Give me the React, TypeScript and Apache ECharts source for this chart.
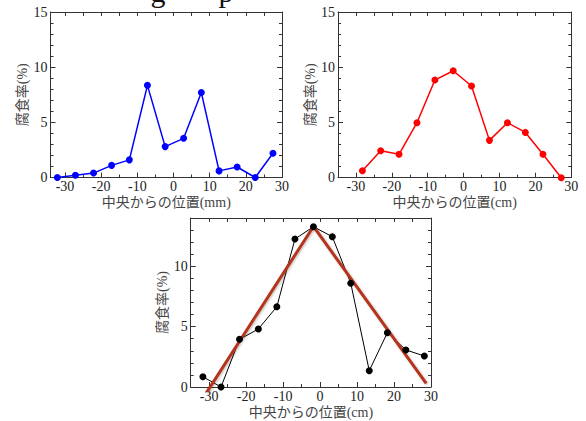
import React, { useEffect, useRef } from "react";
import * as echarts from "echarts";

// ---- data ----
const blueX = [-32.1, -27.1, -22.1, -17.1, -12.2, -7.2, -2.3, 2.8, 7.7, 12.6, 17.6, 22.6, 27.5];
const blueY = [0.0, 0.2, 0.4, 1.1, 1.6, 8.35, 2.8, 3.55, 7.7, 0.6, 0.95, 0.0, 2.2];

const redX = [-28.2, -23.1, -18.0, -13.0, -8.0, -2.9, 2.2, 7.2, 12.2, 17.2, 22.1, 27.2];
const redY = [0.63, 2.44, 2.12, 4.98, 8.84, 9.68, 8.3, 3.38, 4.98, 4.1, 2.12, 0.0];

const blackX = [-31.7, -26.8, -21.8, -16.7, -11.7, -6.8, -1.8, 3.3, 8.3, 13.3, 18.2, 23.2, 28.2];
const blackY = [0.85, 0.0, 3.95, 4.8, 6.65, 12.26, 13.28, 12.45, 8.59, 1.35, 4.5, 3.07, 2.57];

const fitX = [-30.6, -1.8, 28.7];
const fitY = [-0.4, 13.3, 0.3];

// ---- tick values ----
const xMajorTicks = [-30, -20, -10, 0, 10, 20, 30];
const xMinorTicks = [-30, -25, -20, -15, -10, -5, 0, 5, 10, 15, 20, 25, 30];
const yMajorTicks15 = [0, 5, 10, 15];
const yMinorTicks15 = [0, 1, 2, 3, 4, 5, 6, 7, 8, 9, 10, 11, 12, 13, 14, 15];
const yMajorTicks14 = [0, 5, 10];
const yMinorTicks14 = [0, 1, 2, 3, 4, 5, 6, 7, 8, 9, 10, 11, 12, 13, 14];

const xTitleMm = "中央からの位置(mm)";
const xTitleCm = "中央からの位置(cm)";
const yTitle = "腐食率(%)";

const FONT = "'Liberation Serif', 'Noto Sans CJK JP', serif";
const AXIS_COLOR = "#333";

function zip(xs: number[], ys: number[]) {
  return xs.map((x, i) => [x, ys[i]]);
}

export default function App() {
  const ref = useRef<HTMLDivElement>(null);

  useEffect(() => {
    if (!ref.current) return;
    const chart = echarts.init(ref.current, undefined, { renderer: "svg" });

    const grids = [
      { left: 50.5, top: 12, width: 231.5, height: 165.5 },
      { left: 338, top: 12, width: 233.3, height: 165.7 },
      { left: 190.7, top: 218, width: 240.3, height: 169 },
    ];

    const xAxes: any[] = [];
    const yAxes: any[] = [];

    const addAxes = (
      gi: number,
      xmin: number,
      xmax: number,
      ymax: number,
      yMaj: number[],
      yMin: number[],
      xName: string
    ) => {
      const xMain = xAxes.length;
      xAxes.push({
        type: "value",
        gridIndex: gi,
        min: xmin,
        max: xmax,
        position: "bottom",
        axisLine: { show: true, onZero: false, lineStyle: { color: AXIS_COLOR, width: 1 } },
        axisTick: { show: true, inside: true, length: 5, customValues: xMajorTicks, lineStyle: { color: AXIS_COLOR } },
        axisLabel: { show: true, customValues: xMajorTicks, margin: 2, fontSize: 14, color: "#222", fontFamily: FONT },
        splitLine: { show: false },
        name: xName,
        nameLocation: "middle",
        nameGap: 18,
        nameTextStyle: { fontSize: 14, color: "#444", fontFamily: FONT, verticalAlign: "top" },
      });
      xAxes.push({
        type: "value",
        gridIndex: gi,
        min: xmin,
        max: xmax,
        position: "bottom",
        axisLine: { show: false, onZero: false },
        axisTick: { show: true, inside: true, length: 3, customValues: xMinorTicks, lineStyle: { color: AXIS_COLOR } },
        axisLabel: { show: false },
        splitLine: { show: false },
      });
      xAxes.push({
        type: "value",
        gridIndex: gi,
        min: xmin,
        max: xmax,
        position: "top",
        axisLine: { show: true, onZero: false, lineStyle: { color: AXIS_COLOR, width: 1 } },
        axisTick: { show: true, inside: true, length: 4, customValues: xMinorTicks, lineStyle: { color: AXIS_COLOR } },
        axisLabel: { show: false },
        splitLine: { show: false },
      });

      const yMain = yAxes.length;
      yAxes.push({
        type: "value",
        gridIndex: gi,
        min: 0,
        max: ymax,
        position: "left",
        axisLine: { show: true, onZero: false, lineStyle: { color: AXIS_COLOR, width: 1 } },
        axisTick: { show: true, inside: true, length: 5, customValues: yMaj, lineStyle: { color: AXIS_COLOR } },
        axisLabel: { show: true, customValues: yMaj, margin: 3, fontSize: 14, color: "#222", fontFamily: FONT },
        splitLine: { show: false },
        name: yTitle,
        nameLocation: "middle",
        nameGap: 20,
        nameTextStyle: { fontSize: 14, color: "#444", fontFamily: FONT },
      });
      yAxes.push({
        type: "value",
        gridIndex: gi,
        min: 0,
        max: ymax,
        position: "left",
        axisLine: { show: false, onZero: false },
        axisTick: { show: true, inside: true, length: 3, customValues: yMin, lineStyle: { color: AXIS_COLOR } },
        axisLabel: { show: false },
        splitLine: { show: false },
      });
      yAxes.push({
        type: "value",
        gridIndex: gi,
        min: 0,
        max: ymax,
        position: "right",
        axisLine: { show: true, onZero: false, lineStyle: { color: AXIS_COLOR, width: 1 } },
        axisTick: { show: true, inside: true, length: 5, customValues: yMaj, lineStyle: { color: AXIS_COLOR } },
        axisLabel: { show: false },
        splitLine: { show: false },
      });
      yAxes.push({
        type: "value",
        gridIndex: gi,
        min: 0,
        max: ymax,
        position: "right",
        axisLine: { show: false, onZero: false },
        axisTick: { show: true, inside: true, length: 3, customValues: yMin, lineStyle: { color: AXIS_COLOR } },
        axisLabel: { show: false },
        splitLine: { show: false },
      });
      return { xMain, yMain };
    };

    const a0 = addAxes(0, -34, 30, 15, yMajorTicks15, yMinorTicks15, xTitleMm);
    const a1 = addAxes(1, -35, 30, 15, yMajorTicks15, yMinorTicks15, xTitleCm);
    const a2 = addAxes(2, -35, 30, 14, yMajorTicks14, yMinorTicks14, xTitleCm);

    const option: any = {
      animation: false,
      backgroundColor: "#fff",
      grid: grids,
      xAxis: xAxes,
      yAxis: yAxes,
      graphic: [
        {
          type: "text",
          x: 158,
          y: -9,
          style: { text: "g", font: "30px 'Liberation Serif'", fill: "#111", align: "center", verticalAlign: "middle" },
        },
        {
          type: "text",
          x: 226,
          y: -9,
          style: { text: "p", font: "30px 'Liberation Serif'", fill: "#111", align: "center", verticalAlign: "middle" },
        },
      ],
      series: [
        {
          type: "line",
          xAxisIndex: a0.xMain,
          yAxisIndex: a0.yMain,
          data: zip(blueX, blueY),
          symbol: "circle",
          symbolSize: 7,
          itemStyle: { color: "#0000ff" },
          lineStyle: { color: "#0000ff", width: 1.5 },
          clip: false,
        },
        {
          type: "line",
          xAxisIndex: a1.xMain,
          yAxisIndex: a1.yMain,
          data: zip(redX, redY),
          symbol: "circle",
          symbolSize: 7,
          itemStyle: { color: "#ff0000" },
          lineStyle: { color: "#ff0000", width: 1.5 },
          clip: false,
        },
        {
          type: "line",
          xAxisIndex: a2.xMain,
          yAxisIndex: a2.yMain,
          data: zip(blackX, blackY),
          symbol: "circle",
          symbolSize: 7,
          itemStyle: { color: "#000" },
          lineStyle: { color: "#000", width: 1 },
          clip: false,
        },
        {
          type: "line",
          xAxisIndex: a2.xMain,
          yAxisIndex: a2.yMain,
          data: zip(fitX, fitY),
          symbol: "none",
          lineStyle: {
            color: "#b5341c",
            width: 3,
            shadowColor: "rgba(0,0,0,0.25)",
            shadowBlur: 2,
            shadowOffsetX: 1,
            shadowOffsetY: 1,
          },
          clip: false,
        },
      ],
    };

    chart.setOption(option);
    return () => chart.dispose();
  }, []);

  return (
    <div
      ref={ref}
      style={{ position: "fixed", left: 0, top: 0, width: 586, height: 421, background: "#fff" }}
    />
  );
}
